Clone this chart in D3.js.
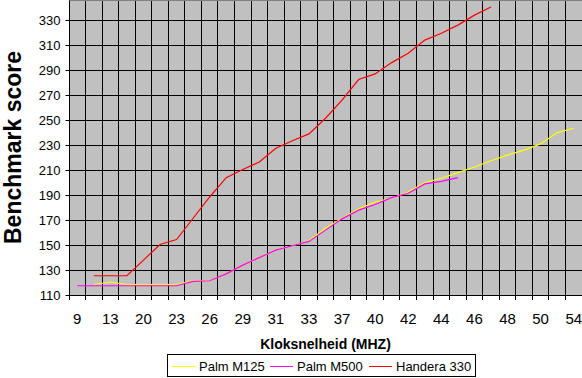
<!DOCTYPE html>
<html>
<head>
<meta charset="utf-8">
<script src="https://cdn.jsdelivr.net/npm/d3@7"></script>
<style>
  html, body { margin: 0; padding: 0; background: #ffffff; }
  svg { display: block; font-family: Arial, "Liberation Sans", sans-serif; }
</style>
</head>
<body>
<svg id="chart" width="582" height="378"></svg>
<script>
// Categories (clock speed in MHz); every other one is labelled on the axis
const categories = [9, 11, 13, 16, 20, 22, 23, 25, 26, 28, 29, 30, 31, 32, 33, 35,
                    37, 38, 40, 41, 42, 43, 44, 45, 46, 47, 48, 49, 50, 52, 54];
const yTicks = [110, 130, 150, 170, 190, 210, 230, 250, 270, 290, 310, 330];

const palmM125 = [null, 118, 120, 118, 118, 118, 118, 121, 121, 126.5, 133.5, 139.5, 145.5, 149, 153, 163,
                  171, 178.5, 184, 187, 192, 199.5, 203, 207.5, 212, 217, 221.5, 225.5, 230.5, 239.5, 243];
const palmM500 = [117, 117, 117, 117, 117, 117, 117, 120.5, 121, 126.5, 133.5, 139.5, 145.5, 149, 152.5, 161.5,
                  170.5, 177.5, 182, 187.5, 191, 198.5, 200.5, 203.5, null, null, null, null, null, null, null];
const handera330 = [null, 125, 125, 125, 137.5, 150, 154, 171, 188, 203.5, 210, 216, 227, 233, 238.5, 251,
                    265.5, 282, 286.5, 295.5, 303, 313.5, 319, 325.5, 333.5, 340, null, null, null, null, null];

const seriesNames = ["Palm M125", "Palm M500", "Handera 330"];
const seriesColors = ["#ffff00", "#ff00ff", "#ff0000"];
const seriesData = [palmM125, palmM500, handera330];

const svg = d3.select("#chart");
const plot = { left: 69, right: 582, top: 0, bottom: 295 };

const x = d3.scaleBand().domain(d3.range(categories.length))
  .range([plot.left, plot.right]).paddingInner(0).paddingOuter(0);
const y = d3.scaleLinear().domain([110, 346]).range([plot.bottom - 0.5, plot.top - 0.5]);

// plot background
svg.append("rect")
  .attr("x", plot.left).attr("y", plot.top)
  .attr("width", plot.right - plot.left).attr("height", plot.bottom - plot.top)
  .attr("fill", "#c0c0c0");
// top border of plot area (gray)
svg.append("line")
  .attr("x1", plot.left).attr("x2", plot.right).attr("y1", 0.5).attr("y2", 0.5)
  .attr("stroke", "#808080").attr("stroke-width", 1);

// vertical gridlines at category boundaries
const bounds = d3.range(categories.length + 1).map(i => Math.floor(plot.left + i * x.step()) + 0.5);
svg.append("g").selectAll("line").data(bounds.slice(1)).join("line")
  .attr("x1", d => d).attr("x2", d => d)
  .attr("y1", plot.top + 1).attr("y2", plot.bottom)
  .attr("stroke", "#000").attr("stroke-width", 1);

// horizontal gridlines
svg.append("g").selectAll("line").data(yTicks).join("line")
  .attr("x1", plot.left).attr("x2", plot.right)
  .attr("y1", d => Math.round(y(d)) + 0.5).attr("y2", d => Math.round(y(d)) + 0.5)
  .attr("stroke", "#000").attr("stroke-width", 1);

// y axis
const yAxis = d3.axisLeft(y).tickValues(yTicks).tickSize(4).tickPadding(5);
const gy = svg.append("g").attr("transform", `translate(${plot.left + 0.5},0.5)`).call(yAxis);
gy.select(".domain").attr("d", `M0,${plot.top}V${plot.bottom - 0.5}`).attr("stroke", "#000");
gy.selectAll(".tick line").attr("stroke", "#000");
gy.selectAll(".tick text").attr("font-size", 13).attr("fill", "#000")
  .attr("font-family", "Arial, 'Liberation Sans', sans-serif");

// x axis (ticks at category boundaries, labels on every other category)
const gx = svg.append("g").attr("transform", `translate(0,${plot.bottom})`);
gx.append("line").attr("x1", plot.left).attr("x2", plot.right).attr("y1", 0.5).attr("y2", 0.5)
  .attr("stroke", "#000");
gx.selectAll("line.tk").data(bounds).join("line").attr("class", "tk")
  .attr("x1", d => d).attr("x2", d => d).attr("y1", 0).attr("y2", 5)
  .attr("stroke", "#000");
gx.selectAll("text").data(categories.map((c, i) => ({ c, i })).filter(d => d.i % 2 === 0)).join("text")
  .attr("x", d => x(d.i) + x.bandwidth() / 2).attr("y", 29)
  .attr("text-anchor", "middle").attr("font-size", 15).attr("fill", "#000")
  .text(d => d.c);

// series lines
const line = d3.line()
  .defined(d => d.v !== null)
  .x(d => x(d.i) + x.bandwidth() / 2)
  .y(d => y(d.v));
seriesData.forEach((arr, k) => {
  svg.append("path")
    .datum(arr.map((v, i) => ({ v, i })))
    .attr("d", line)
    .attr("fill", "none")
    .attr("stroke", seriesColors[k])
    .attr("stroke-width", 1.2);
});

// axis titles
svg.append("text")
  .attr("x", (plot.left + plot.right) / 2).attr("y", 349)
  .attr("text-anchor", "middle").attr("font-size", 14).attr("font-weight", "bold")
  .text("Kloksnelheid (MHZ)");
svg.append("text")
  .attr("transform", `translate(21,147.5) rotate(-90)`)
  .attr("text-anchor", "middle").attr("font-size", 23).attr("font-weight", "bold")
  .text("Benchmark score");

// legend
const legend = svg.append("g");
legend.append("rect").attr("x", 167.5).attr("y", 354.5).attr("width", 308).attr("height", 22)
  .attr("fill", "#fff").attr("stroke", "#000");
const legendX = [172, 270, 369];
seriesNames.forEach((name, k) => {
  legend.append("line").attr("x1", legendX[k]).attr("x2", legendX[k] + 23)
    .attr("y1", 366.5).attr("y2", 366.5).attr("stroke", seriesColors[k]).attr("stroke-width", 1);
  legend.append("text").attr("x", legendX[k] + 27).attr("y", 371)
    .attr("font-size", 13).text(name);
});
</script>
</body>
</html>
